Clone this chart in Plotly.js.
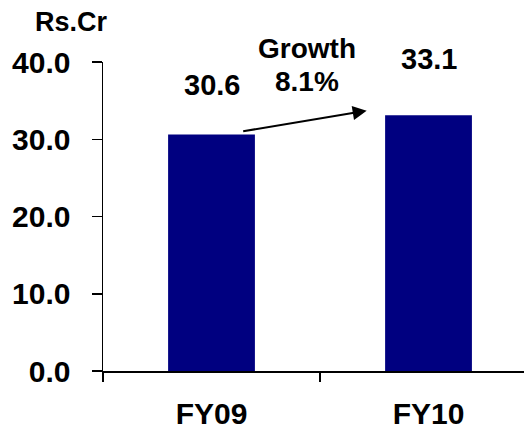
<!DOCTYPE html>
<html>
<head>
<meta charset="utf-8">
<script src="https://cdn.plot.ly/plotly-3.0.1.min.js"></script>
<style>html,body{margin:0;padding:0;background:#fff;}#chart{width:524px;height:430px;}</style>
</head>
<body>
<div id="chart"></div>
<script>
const categories = ["FY09", "FY10"];
const revenue = [30.6, 33.1];
const valueLabels = ["30.6", "33.1"];
const yTickVals = [0, 10, 20, 30, 40];
const unitLabel = "Rs.Cr";
const growthTitle = "Growth";
const growthValue = "8.1%";

const FONT = "Liberation Sans, Arial, Helvetica, sans-serif";
const bold = (size) => ({family: FONT, size: size, color: "#000", weight: 700});

const trace = {
  type: "bar",
  x: categories,
  y: revenue,
  width: 0.4,
  marker: {color: "#000080", line: {width: 0}},
  hoverinfo: "none"
};

const labelShift = [32, 38];
const annotations = [];
categories.forEach((c, i) => {
  annotations.push({
    x: c, y: revenue[i], xref: "x", yref: "y",
    text: valueLabels[i], showarrow: false,
    xanchor: "center", yanchor: "bottom", yshift: labelShift[i],
    font: bold(29)
  });
});
annotations.push({
  xref: "paper", yref: "paper", x: -0.076, y: 1.129,
  text: unitLabel, showarrow: false, xanchor: "center", yanchor: "middle",
  font: bold(27)
});
annotations.push({
  xref: "x", yref: "y", x: 0.44, y: revenue[1], yshift: 67,
  text: growthTitle, showarrow: false, xanchor: "center", yanchor: "middle",
  font: bold(28)
});
annotations.push({
  xref: "x", yref: "y", x: 0.44, y: revenue[1], yshift: 34,
  text: growthValue, showarrow: false, xanchor: "center", yanchor: "middle",
  font: bold(28)
});
annotations.push({
  xref: "x", yref: "y", x: 0.715, y: revenue[1] + 0.6,
  axref: "x", ayref: "y", ax: 0.139, ay: revenue[0] + 0.4,
  text: "", showarrow: true, arrowhead: 2, arrowsize: 1.4, arrowwidth: 2,
  arrowcolor: "#000", standoff: 0, startstandoff: 0
});

const layout = {
  width: 524, height: 430,
  margin: {l: 103, r: 0, t: 62, b: 59, pad: 0},
  paper_bgcolor: "#fff", plot_bgcolor: "#fff",
  showlegend: false,
  bargap: 0.6,
  xaxis: {
    type: "category",
    range: [-0.5, 1.44],
    showline: true, linecolor: "#000", linewidth: 1.5,
    ticks: "outside", tickson: "boundaries", ticklen: 9, tickwidth: 1.5, tickcolor: "#000",
    tickfont: bold(30),
    ticklabelstandoff: 15,
    showgrid: false, zeroline: false, fixedrange: true
  },
  yaxis: {
    range: [0, 40],
    tickvals: yTickVals,
    tickformat: ".1f",
    showline: true, linecolor: "#000", linewidth: 1.5,
    ticks: "outside", ticklen: 10, tickwidth: 1.5, tickcolor: "#000",
    tickfont: bold(30),
    ticklabelstandoff: 15,
    showgrid: false, zeroline: false, fixedrange: true
  },
  annotations: annotations
};

Plotly.newPlot("chart", [trace], layout, {staticPlot: true, displayModeBar: false});
</script>
</body>
</html>
